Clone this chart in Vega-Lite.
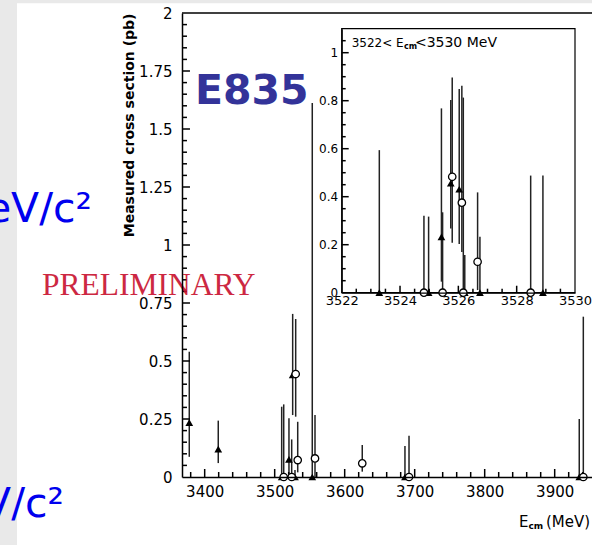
{
  "$schema": "https://vega.github.io/schema/vega-lite/v6.json",
  "width": 410,
  "height": 464,
  "autosize": {"type": "none"},
  "padding": {"left": 182, "top": 13, "right": 0, "bottom": 68},
  "background": "white",
  "config": {
    "view": {"stroke": null},
    "axis": {"labelFont": "DejaVu Sans", "titleFont": "DejaVu Sans", "labelColor": "black", "titleColor": "black", "domainColor": "black", "grid": false, "labelFlush": false, "labelOverlap": false},
    "text": {"font": "DejaVu Sans"}
  },
  "datasets": {
    "main": [
      {"E": 3378.0, "v": 0.234, "lo": 0.087, "hi": 0.54, "kind": "tri"},
      {"E": 3419.4, "v": 0.12, "lo": 0.06, "hi": 0.243, "kind": "tri"},
      {"E": 3510.0, "v": 0, "lo": 0, "hi": 0.303, "kind": "tri"},
      {"E": 3512.9, "v": 0, "lo": 0, "hi": 0.313, "kind": "circ"},
      {"E": 3520.4, "v": 0.076, "lo": 0, "hi": 0.253, "kind": "tri"},
      {"E": 3524.3, "v": 0, "lo": 0, "hi": 0.162, "kind": "circ"},
      {"E": 3525.7, "v": 0.44, "lo": 0.267, "hi": 0.703, "kind": "tri"},
      {"E": 3529.0, "v": 0, "lo": 0, "hi": 0.03, "kind": "tri"},
      {"E": 3530.0, "v": 0.444, "lo": 0.26, "hi": 0.681, "kind": "circ"},
      {"E": 3532.9, "v": 0.073, "lo": 0.02, "hi": 0.238, "kind": "circ"},
      {"E": 3553.7, "v": 0, "lo": 0, "hi": 1.612, "kind": "tri"},
      {"E": 3557.6, "v": 0.08, "lo": 0, "hi": 0.267, "kind": "circ"},
      {"E": 3625.1, "v": 0.059, "lo": 0.023, "hi": 0.138, "kind": "circ"},
      {"E": 3686.1, "v": 0, "lo": 0, "hi": 0.134, "kind": "tri"},
      {"E": 3691.9, "v": 0, "lo": 0, "hi": 0.178, "kind": "circ"},
      {"E": 3935.1, "v": 0, "lo": 0, "hi": 0.25, "kind": "tri"},
      {"E": 3940.9, "v": 0, "lo": 0, "hi": 0.691, "kind": "circ"}
    ],
    "inset": [
      {"E": 3523.29, "v": 0, "lo": 0, "hi": 0.594, "kind": "tri"},
      {"E": 3524.82, "v": 0, "lo": 0, "hi": 0.321, "kind": "circ"},
      {"E": 3524.98, "v": 0, "lo": 0, "hi": 0.317, "kind": "tri"},
      {"E": 3525.42, "v": 0.233, "lo": 0.046, "hi": 0.768, "kind": "tri"},
      {"E": 3525.46, "v": 0, "lo": 0, "hi": 0.335, "kind": "circ"},
      {"E": 3525.74, "v": 0.456, "lo": 0.268, "hi": 0.803, "kind": "tri"},
      {"E": 3525.79, "v": 0.483, "lo": 0.208, "hi": 0.897, "kind": "circ"},
      {"E": 3526.03, "v": 0.431, "lo": 0.203, "hi": 0.849, "kind": "tri"},
      {"E": 3526.12, "v": 0.375, "lo": 0.17, "hi": 0.862, "kind": "circ"},
      {"E": 3526.17, "v": 0, "lo": 0, "hi": 0.813, "kind": "circ"},
      {"E": 3526.22, "v": 0, "lo": 0, "hi": 0.157, "kind": "tri"},
      {"E": 3526.66, "v": 0.129, "lo": 0.011, "hi": 0.418, "kind": "circ"},
      {"E": 3526.74, "v": 0, "lo": 0, "hi": 0.233, "kind": "tri"},
      {"E": 3528.48, "v": 0, "lo": 0, "hi": 0.488, "kind": "circ"},
      {"E": 3528.90, "v": 0, "lo": 0, "hi": 0.488, "kind": "tri"}
    ],
    "mainXTicks": [
      {"t": 3380, "b": 0, "e": 0.0216}, {"t": 3400, "b": 0, "e": 0.0345}, {"t": 3420, "b": 0, "e": 0.0216}, {"t": 3440, "b": 0, "e": 0.0216}, {"t": 3460, "b": 0, "e": 0.0216}, {"t": 3480, "b": 0, "e": 0.0216},
      {"t": 3500, "b": 0, "e": 0.0345}, {"t": 3520, "b": 0, "e": 0.0216}, {"t": 3540, "b": 0, "e": 0.0216}, {"t": 3560, "b": 0, "e": 0.0216}, {"t": 3580, "b": 0, "e": 0.0216},
      {"t": 3600, "b": 0, "e": 0.0345}, {"t": 3620, "b": 0, "e": 0.0216}, {"t": 3640, "b": 0, "e": 0.0216}, {"t": 3660, "b": 0, "e": 0.0216}, {"t": 3680, "b": 0, "e": 0.0216},
      {"t": 3700, "b": 0, "e": 0.0345}, {"t": 3720, "b": 0, "e": 0.0216}, {"t": 3740, "b": 0, "e": 0.0216}, {"t": 3760, "b": 0, "e": 0.0216}, {"t": 3780, "b": 0, "e": 0.0216},
      {"t": 3800, "b": 0, "e": 0.0345}, {"t": 3820, "b": 0, "e": 0.0216}, {"t": 3840, "b": 0, "e": 0.0216}, {"t": 3860, "b": 0, "e": 0.0216}, {"t": 3880, "b": 0, "e": 0.0216},
      {"t": 3900, "b": 0, "e": 0.0345}, {"t": 3920, "b": 0, "e": 0.0216}, {"t": 3940, "b": 0, "e": 0.0216}
    ],
    "mainYTicks": [
      {"t": 0.05, "b": 3367.6, "e": 3374.7}, {"t": 0.1, "b": 3367.6, "e": 3374.7}, {"t": 0.15, "b": 3367.6, "e": 3374.7}, {"t": 0.2, "b": 3367.6, "e": 3374.7}, {"t": 0.25, "b": 3367.6, "e": 3379.0},
      {"t": 0.3, "b": 3367.6, "e": 3374.7}, {"t": 0.35, "b": 3367.6, "e": 3374.7}, {"t": 0.4, "b": 3367.6, "e": 3374.7}, {"t": 0.45, "b": 3367.6, "e": 3374.7}, {"t": 0.5, "b": 3367.6, "e": 3379.0},
      {"t": 0.55, "b": 3367.6, "e": 3374.7}, {"t": 0.6, "b": 3367.6, "e": 3374.7}, {"t": 0.65, "b": 3367.6, "e": 3374.7}, {"t": 0.7, "b": 3367.6, "e": 3374.7}, {"t": 0.75, "b": 3367.6, "e": 3379.0},
      {"t": 0.8, "b": 3367.6, "e": 3374.7}, {"t": 0.85, "b": 3367.6, "e": 3374.7}, {"t": 0.9, "b": 3367.6, "e": 3374.7}, {"t": 0.95, "b": 3367.6, "e": 3374.7}, {"t": 1, "b": 3367.6, "e": 3379.0},
      {"t": 1.05, "b": 3367.6, "e": 3374.7}, {"t": 1.1, "b": 3367.6, "e": 3374.7}, {"t": 1.15, "b": 3367.6, "e": 3374.7}, {"t": 1.2, "b": 3367.6, "e": 3374.7}, {"t": 1.25, "b": 3367.6, "e": 3379.0},
      {"t": 1.3, "b": 3367.6, "e": 3374.7}, {"t": 1.35, "b": 3367.6, "e": 3374.7}, {"t": 1.4, "b": 3367.6, "e": 3374.7}, {"t": 1.45, "b": 3367.6, "e": 3374.7}, {"t": 1.5, "b": 3367.6, "e": 3379.0},
      {"t": 1.55, "b": 3367.6, "e": 3374.7}, {"t": 1.6, "b": 3367.6, "e": 3374.7}, {"t": 1.65, "b": 3367.6, "e": 3374.7}, {"t": 1.7, "b": 3367.6, "e": 3374.7}, {"t": 1.75, "b": 3367.6, "e": 3379.0},
      {"t": 1.8, "b": 3367.6, "e": 3374.7}, {"t": 1.85, "b": 3367.6, "e": 3374.7}, {"t": 1.9, "b": 3367.6, "e": 3374.7}, {"t": 1.95, "b": 3367.6, "e": 3374.7}
    ],
    "insetXTicks": [
      {"t": 3522.5, "b": 0, "e": 0.0167}, {"t": 3523, "b": 0, "e": 0.0167}, {"t": 3523.5, "b": 0, "e": 0.0167}, {"t": 3524, "b": 0, "e": 0.029},
      {"t": 3524.5, "b": 0, "e": 0.0167}, {"t": 3525, "b": 0, "e": 0.0167}, {"t": 3525.5, "b": 0, "e": 0.0167}, {"t": 3526, "b": 0, "e": 0.029},
      {"t": 3526.5, "b": 0, "e": 0.0167}, {"t": 3527, "b": 0, "e": 0.0167}, {"t": 3527.5, "b": 0, "e": 0.0167}, {"t": 3528, "b": 0, "e": 0.029},
      {"t": 3528.5, "b": 0, "e": 0.0167}, {"t": 3529, "b": 0, "e": 0.0167}, {"t": 3529.5, "b": 0, "e": 0.0167}
    ],
    "insetYTicks": [
      {"t": 0.05, "b": 3522, "e": 3522.137}, {"t": 0.1, "b": 3522, "e": 3522.137}, {"t": 0.15, "b": 3522, "e": 3522.137}, {"t": 0.2, "b": 3522, "e": 3522.24},
      {"t": 0.25, "b": 3522, "e": 3522.137}, {"t": 0.3, "b": 3522, "e": 3522.137}, {"t": 0.35, "b": 3522, "e": 3522.137}, {"t": 0.4, "b": 3522, "e": 3522.24},
      {"t": 0.45, "b": 3522, "e": 3522.137}, {"t": 0.5, "b": 3522, "e": 3522.137}, {"t": 0.55, "b": 3522, "e": 3522.137}, {"t": 0.6, "b": 3522, "e": 3522.24},
      {"t": 0.65, "b": 3522, "e": 3522.137}, {"t": 0.7, "b": 3522, "e": 3522.137}, {"t": 0.75, "b": 3522, "e": 3522.137}, {"t": 0.8, "b": 3522, "e": 3522.24},
      {"t": 0.85, "b": 3522, "e": 3522.137}, {"t": 0.9, "b": 3522, "e": 3522.137}, {"t": 0.95, "b": 3522, "e": 3522.137}, {"t": 1, "b": 3522, "e": 3522.24},
      {"t": 1.05, "b": 3522, "e": 3522.137}
    ]
  },
  "layer": [
    {
      "layer": [
        {
          "data": {"values": [{"a": 3000, "b": 3131.9, "c": -1, "d": 3}, {"a": 3000, "b": 4300, "c": 2.042, "d": 3}]},
          "mark": {"type": "rect", "color": "#e9e9e9"},
          "encoding": {
            "x": {"field": "a", "type": "quantitative", "scale": {"domain": [3367.6, 3953.3], "nice": false, "zero": false}, "axis": null},
            "x2": {"field": "b"},
            "y": {"field": "c", "type": "quantitative", "scale": {"domain": [0, 2], "nice": false, "zero": false}, "axis": null},
            "y2": {"field": "d"}
          }
        },
        {
          "data": {"name": "main"},
          "mark": {"type": "rule", "color": "#222222", "strokeWidth": 1.5},
          "encoding": {
            "x": {"field": "E", "type": "quantitative", "scale": {"domain": [3367.6, 3953.3], "nice": false, "zero": false},
              "axis": {"orient": "bottom", "values": [3400, 3500, 3600, 3700, 3800, 3900], "format": "d", "ticks": false, "domainWidth": 1.5, "labelPadding": 7, "labelFontSize": 15, "title": null, "zindex": 1}},
            "y": {"field": "lo", "type": "quantitative", "scale": {"domain": [0, 2], "nice": false, "zero": false},
              "axis": {"orient": "left", "values": [0, 0.25, 0.5, 0.75, 1, 1.25, 1.5, 1.75, 2], "format": ".3~g", "ticks": false, "domainWidth": 1.5, "labelPadding": 10, "labelFontSize": 15, "title": "Measured cross section (pb)", "titleFontSize": 14, "titleFontWeight": "bold", "titleAnchor": "end", "titlePadding": 2, "zindex": 1}},
            "y2": {"field": "hi"}
          }
        },
        {
          "data": {"name": "mainXTicks"},
          "mark": {"type": "rule", "color": "black", "strokeWidth": 1.5},
          "encoding": {
            "x": {"field": "t", "type": "quantitative", "scale": {"domain": [3367.6, 3953.3], "nice": false, "zero": false}, "axis": null},
            "y": {"field": "b", "type": "quantitative", "scale": {"domain": [0, 2], "nice": false, "zero": false}, "axis": null},
            "y2": {"field": "e"}
          }
        },
        {
          "data": {"name": "mainYTicks"},
          "mark": {"type": "rule", "color": "black", "strokeWidth": 1.5},
          "encoding": {
            "y": {"field": "t", "type": "quantitative", "scale": {"domain": [0, 2], "nice": false, "zero": false}, "axis": null},
            "x": {"field": "b", "type": "quantitative", "scale": {"domain": [3367.6, 3953.3], "nice": false, "zero": false}, "axis": null},
            "x2": {"field": "e"}
          }
        },
        {
          "data": {"name": "main"},
          "transform": [{"filter": "datum.kind == 'tri'"}],
          "mark": {"type": "point", "shape": "triangle-up", "filled": true, "color": "black", "size": 60, "opacity": 1},
          "encoding": {
            "x": {"field": "E", "type": "quantitative", "scale": {"domain": [3367.6, 3953.3], "nice": false, "zero": false}, "axis": null},
            "y": {"field": "v", "type": "quantitative", "scale": {"domain": [0, 2], "nice": false, "zero": false}, "axis": null}
          }
        },
        {
          "data": {"name": "main"},
          "transform": [{"filter": "datum.kind == 'circ'"}],
          "mark": {"type": "point", "shape": "circle", "filled": true, "fill": "white", "stroke": "black", "strokeWidth": 1.3, "size": 55, "opacity": 1},
          "encoding": {
            "x": {"field": "E", "type": "quantitative", "scale": {"domain": [3367.6, 3953.3], "nice": false, "zero": false}, "axis": null},
            "y": {"field": "v", "type": "quantitative", "scale": {"domain": [0, 2], "nice": false, "zero": false}, "axis": null}
          }
        },
        {
          "data": {"values": [{"top": 2}]},
          "mark": {"type": "rule", "color": "black", "strokeWidth": 1.5},
          "encoding": {
            "y": {"field": "top", "type": "quantitative", "scale": {"domain": [0, 2], "nice": false, "zero": false}, "axis": null}
          }
        },
        {
          "data": {"values": [{"t": "E835", "E": 3386.2, "pb": 1.608}]},
          "mark": {"type": "text", "align": "left", "baseline": "alphabetic", "font": "DejaVu Sans", "fontWeight": "bold", "fontSize": 41, "color": "#333399"},
          "encoding": {
            "x": {"field": "E", "type": "quantitative", "scale": {"domain": [3367.6, 3953.3], "nice": false, "zero": false}, "axis": null},
            "y": {"field": "pb", "type": "quantitative", "scale": {"domain": [0, 2], "nice": false, "zero": false}, "axis": null},
            "text": {"field": "t"}
          }
        },
        {
          "data": {"values": [{"t": "PRELIMINARY", "E": 3167.6, "pb": 0.784}]},
          "mark": {"type": "text", "align": "left", "baseline": "alphabetic", "font": "Liberation Serif", "fontSize": 31.5, "color": "#c8102e", "opacity": 0.9},
          "encoding": {
            "x": {"field": "E", "type": "quantitative", "scale": {"domain": [3367.6, 3953.3], "nice": false, "zero": false}, "axis": null},
            "y": {"field": "pb", "type": "quantitative", "scale": {"domain": [0, 2], "nice": false, "zero": false}, "axis": null},
            "text": {"field": "t"}
          }
        },
        {
          "data": {"values": [{"t": "MeV/c²", "E": 3239.0, "pb": 1.099}, {"t": "MeV/c²", "E": 3199.0, "pb": -0.172}]},
          "mark": {"type": "text", "align": "right", "baseline": "alphabetic", "font": "DejaVu Sans", "fontSize": 41, "color": "#0000ee"},
          "encoding": {
            "x": {"field": "E", "type": "quantitative", "scale": {"domain": [3367.6, 3953.3], "nice": false, "zero": false}, "axis": null},
            "y": {"field": "pb", "type": "quantitative", "scale": {"domain": [0, 2], "nice": false, "zero": false}, "axis": null},
            "text": {"field": "t"}
          }
        },
        {
          "data": {"values": [{"t": "E", "E": 3849.0, "pb": -0.214}, {"t": "(MeV)", "E": 3887.6, "pb": -0.214}]},
          "mark": {"type": "text", "align": "left", "baseline": "alphabetic", "font": "DejaVu Sans", "fontSize": 15, "color": "black"},
          "encoding": {
            "x": {"field": "E", "type": "quantitative", "scale": {"domain": [3367.6, 3953.3], "nice": false, "zero": false}, "axis": null},
            "y": {"field": "pb", "type": "quantitative", "scale": {"domain": [0, 2], "nice": false, "zero": false}, "axis": null},
            "text": {"field": "t"}
          }
        },
        {
          "data": {"values": [{"t": "cm", "E": 3862.6, "pb": -0.224}]},
          "mark": {"type": "text", "align": "left", "baseline": "alphabetic", "font": "DejaVu Sans", "fontSize": 9, "fontWeight": "bold", "color": "black"},
          "encoding": {
            "x": {"field": "E", "type": "quantitative", "scale": {"domain": [3367.6, 3953.3], "nice": false, "zero": false}, "axis": null},
            "y": {"field": "pb", "type": "quantitative", "scale": {"domain": [0, 2], "nice": false, "zero": false}, "axis": null},
            "text": {"field": "t"}
          }
        }
      ],
      "resolve": {"axis": {"x": "independent", "y": "independent"}}
    },
    {
      "layer": [
        {
          "data": {"values": [{"a": 3522, "b": 3530, "c": 0, "d": 1.1}]},
          "mark": {"type": "rect", "fill": "white", "stroke": "black", "strokeWidth": 1.2},
          "encoding": {
            "x": {"field": "a", "type": "quantitative", "scale": {"domain": [3522, 3530], "range": [159.7, 393], "nice": false, "zero": false}, "axis": null},
            "x2": {"field": "b"},
            "y": {"field": "c", "type": "quantitative", "scale": {"domain": [0, 1.1], "range": [279.7, 15.7], "nice": false, "zero": false}, "axis": null},
            "y2": {"field": "d"}
          }
        },
        {
          "data": {"name": "inset"},
          "mark": {"type": "rule", "color": "#222222", "strokeWidth": 1.5},
          "encoding": {
            "x": {"field": "E", "type": "quantitative", "scale": {"domain": [3522, 3530], "range": [159.7, 393], "nice": false, "zero": false},
              "axis": {"orient": "bottom", "offset": -184.3, "values": [3522, 3524, 3526, 3528, 3530], "format": "d", "ticks": false, "domainWidth": 1.2, "labelPadding": 2, "labelFontSize": 13, "title": null, "zindex": 1}},
            "y": {"field": "lo", "type": "quantitative", "scale": {"domain": [0, 1.1], "range": [279.7, 15.7], "nice": false, "zero": false},
              "axis": {"orient": "left", "offset": -159.7, "values": [0, 0.2, 0.4, 0.6, 0.8, 1], "format": ".2~g", "ticks": false, "domainWidth": 1.2, "labelPadding": 4, "labelFontSize": 12, "title": null, "zindex": 1}},
            "y2": {"field": "hi"}
          }
        },
        {
          "data": {"name": "insetXTicks"},
          "mark": {"type": "rule", "color": "black", "strokeWidth": 1.5},
          "encoding": {
            "x": {"field": "t", "type": "quantitative", "scale": {"domain": [3522, 3530], "range": [159.7, 393], "nice": false, "zero": false}, "axis": null},
            "y": {"field": "b", "type": "quantitative", "scale": {"domain": [0, 1.1], "range": [279.7, 15.7], "nice": false, "zero": false}, "axis": null},
            "y2": {"field": "e"}
          }
        },
        {
          "data": {"name": "insetYTicks"},
          "mark": {"type": "rule", "color": "black", "strokeWidth": 1.5},
          "encoding": {
            "y": {"field": "t", "type": "quantitative", "scale": {"domain": [0, 1.1], "range": [279.7, 15.7], "nice": false, "zero": false}, "axis": null},
            "x": {"field": "b", "type": "quantitative", "scale": {"domain": [3522, 3530], "range": [159.7, 393], "nice": false, "zero": false}, "axis": null},
            "x2": {"field": "e"}
          }
        },
        {
          "data": {"name": "inset"},
          "transform": [{"filter": "datum.kind == 'tri'"}],
          "mark": {"type": "point", "shape": "triangle-up", "filled": true, "color": "black", "size": 60, "opacity": 1},
          "encoding": {
            "x": {"field": "E", "type": "quantitative", "scale": {"domain": [3522, 3530], "range": [159.7, 393], "nice": false, "zero": false}, "axis": null},
            "y": {"field": "v", "type": "quantitative", "scale": {"domain": [0, 1.1], "range": [279.7, 15.7], "nice": false, "zero": false}, "axis": null}
          }
        },
        {
          "data": {"name": "inset"},
          "transform": [{"filter": "datum.kind == 'circ'"}],
          "mark": {"type": "point", "shape": "circle", "filled": true, "fill": "white", "stroke": "black", "strokeWidth": 1.3, "size": 55, "opacity": 1},
          "encoding": {
            "x": {"field": "E", "type": "quantitative", "scale": {"domain": [3522, 3530], "range": [159.7, 393], "nice": false, "zero": false}, "axis": null},
            "y": {"field": "v", "type": "quantitative", "scale": {"domain": [0, 1.1], "range": [279.7, 15.7], "nice": false, "zero": false}, "axis": null}
          }
        },
        {
          "data": {"values": [{"t": "3522< E", "E": 3522.342, "pb": 1.025}]},
          "mark": {"type": "text", "align": "left", "baseline": "alphabetic", "font": "DejaVu Sans", "fontSize": 12, "color": "black"},
          "encoding": {
            "x": {"field": "E", "type": "quantitative", "scale": {"domain": [3522, 3530], "range": [159.7, 393], "nice": false, "zero": false}, "axis": null},
            "y": {"field": "pb", "type": "quantitative", "scale": {"domain": [0, 1.1], "range": [279.7, 15.7], "nice": false, "zero": false}, "axis": null},
            "text": {"field": "t"}
          }
        },
        {
          "data": {"values": [{"t": "cm", "E": 3524.134, "pb": 1.0175}]},
          "mark": {"type": "text", "align": "left", "baseline": "alphabetic", "font": "DejaVu Sans", "fontSize": 8, "fontWeight": "bold", "color": "black"},
          "encoding": {
            "x": {"field": "E", "type": "quantitative", "scale": {"domain": [3522, 3530], "range": [159.7, 393], "nice": false, "zero": false}, "axis": null},
            "y": {"field": "pb", "type": "quantitative", "scale": {"domain": [0, 1.1], "range": [279.7, 15.7], "nice": false, "zero": false}, "axis": null},
            "text": {"field": "t"}
          }
        },
        {
          "data": {"values": [{"t": "<3530 MeV", "E": 3524.51, "pb": 1.025}]},
          "mark": {"type": "text", "align": "left", "baseline": "alphabetic", "font": "DejaVu Sans", "fontSize": 14, "color": "black"},
          "encoding": {
            "x": {"field": "E", "type": "quantitative", "scale": {"domain": [3522, 3530], "range": [159.7, 393], "nice": false, "zero": false}, "axis": null},
            "y": {"field": "pb", "type": "quantitative", "scale": {"domain": [0, 1.1], "range": [279.7, 15.7], "nice": false, "zero": false}, "axis": null},
            "text": {"field": "t"}
          }
        }
      ],
      "resolve": {"axis": {"x": "independent", "y": "independent"}}
    }
  ],
  "resolve": {"scale": {"x": "independent", "y": "independent"}}
}
